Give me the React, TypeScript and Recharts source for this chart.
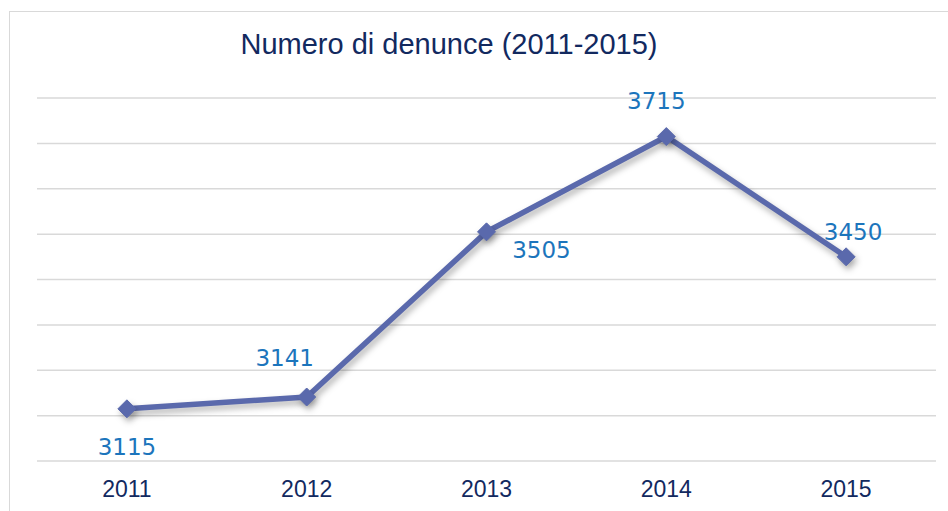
import React from 'react';
import { LineChart, Line, XAxis, YAxis, CartesianGrid, LabelList } from 'recharts';

const years = ['2011', '2012', '2013', '2014', '2015'];
const denunce = [3115, 3141, 3505, 3715, 3450];
const yTicks = [3000, 3100, 3200, 3300, 3400, 3500, 3600, 3700, 3800];

const data = years.map((y, i) => ({ year: y, value: denunce[i] }));

// label placement relative to each point (dx, dy of baseline)
const labelOffsets: [number, number][] = [
  [0, 46],
  [-22, -31],
  [55, 26],
  [-10, -28],
  [7, -17],
];

const LINE_COLOR = '#5A69AC';
const LABEL_COLOR = '#1C75BC';
const NAVY = '#12295F';

const Diamond = (props: any) => {
  const { cx, cy } = props;
  if (cx == null || cy == null) return null;
  const r = 9;
  return (
    <path
      d={`M${cx},${cy - r} L${cx + r},${cy} L${cx},${cy + r} L${cx - r},${cy} Z`}
      fill={LINE_COLOR}
      stroke={LINE_COLOR}
      strokeWidth={1}
    />
  );
};

const ValueLabel = (props: any) => {
  const { x, y, value, index } = props;
  const [dx, dy] = labelOffsets[index] || [0, -20];
  return (
    <text
      x={x + dx}
      y={y + dy}
      textAnchor="middle"
      fill={LABEL_COLOR}
      fontFamily="'DejaVu Sans', Verdana, sans-serif"
      fontSize={23}
    >
      {value}
    </text>
  );
};

export default function App() {
  return (
    <div style={{ position: 'absolute', left: 0, top: 0, width: 948, height: 511, background: '#fff', overflow: 'hidden' }}>
      <style>{`.recharts-line-curve, .recharts-line-dots { filter: drop-shadow(2px 4px 3px rgba(0,0,0,0.3)); }`}</style>
      <div
        style={{
          position: 'absolute',
          left: 9,
          top: 11,
          width: 980,
          height: 540,
          border: '1.5px solid #d9d9d9',
          boxSizing: 'border-box',
        }}
      />
      <div
        style={{
          position: 'absolute',
          left: 0,
          width: 898,
          top: 28,
          textAlign: 'center',
          fontFamily: "'Liberation Sans', Arial, sans-serif",
          fontSize: 29,
          lineHeight: '33px',
          color: NAVY,
          whiteSpace: 'nowrap',
        }}
      >
        Numero di denunce (2011-2015)
      </div>
      <div style={{ position: 'absolute', left: 0, top: 0 }}>
        <LineChart
          width={948}
          height={511}
          data={data}
          margin={{ top: 98, right: 12, bottom: 20, left: 37 }}
        >
          <CartesianGrid horizontal vertical={false} stroke="#d9d9d9" strokeWidth={1.5} />
          <XAxis
            dataKey="year"
            scale="band"
            height={30}
            axisLine={false}
            tickLine={false}
            tickSize={0}
            tickMargin={20}
            interval={0}
            tick={{ fill: NAVY, fontSize: 23, fontFamily: "'Liberation Sans', Arial, sans-serif" }}
          />
          <YAxis hide domain={[3000, 3800]} ticks={yTicks} />
          <Line
            type="linear"
            dataKey="value"
            stroke={LINE_COLOR}
            strokeWidth={5.5}
            dot={<Diamond />}
            activeDot={false}
            isAnimationActive={false}
          >
            <LabelList dataKey="value" content={<ValueLabel />} />
          </Line>
        </LineChart>
      </div>
    </div>
  );
}
